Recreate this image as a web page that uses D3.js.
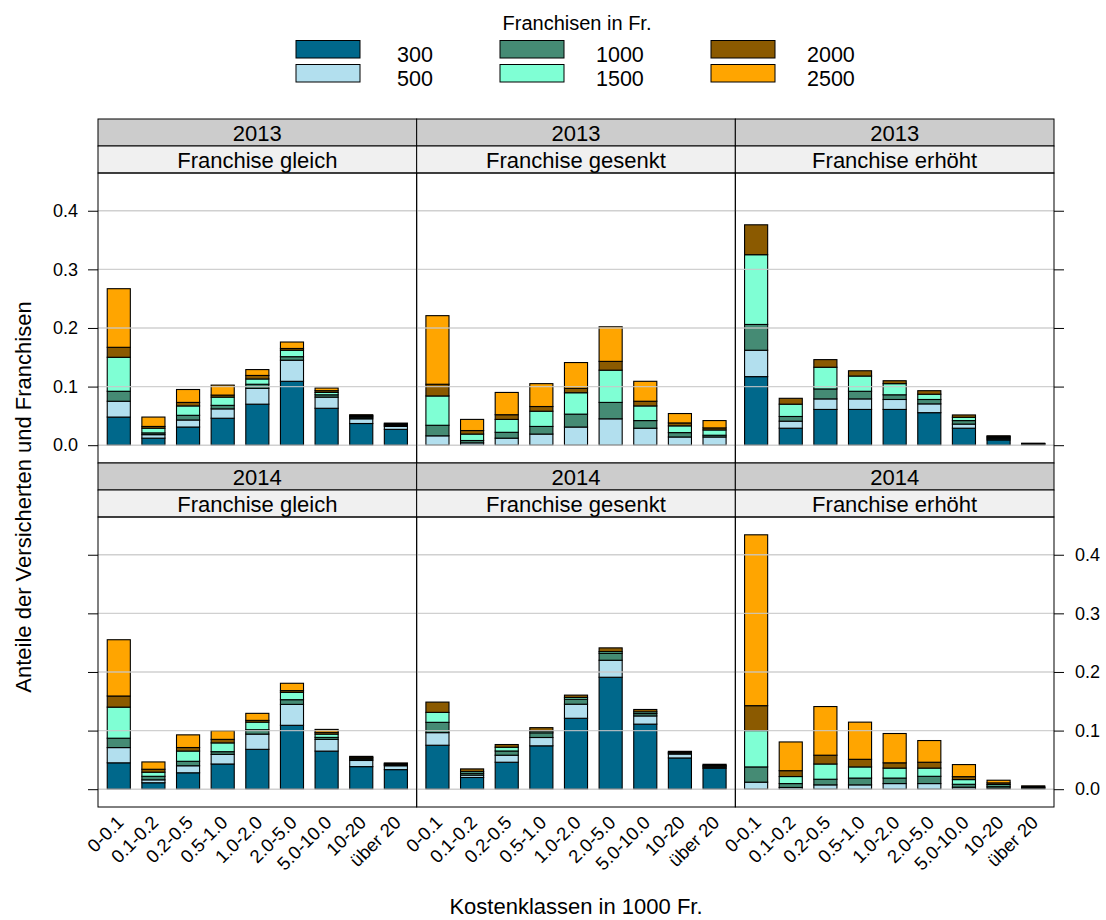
<!DOCTYPE html>
<html>
<head>
<meta charset="utf-8">
<script src="https://cdn.jsdelivr.net/npm/d3@7"></script>
<style>
  html, body { margin: 0; padding: 0; background: #fff; }
  svg { display: block; font-family: "Liberation Sans", Arial, sans-serif; }
</style>
</head>
<body>
<svg id="chart" width="1106" height="920"></svg>
<script>
// Cost classes (in 1000 Fr.) and deductible levels (Franchisen)
const kostenklassen = ["0-0.1", "0.1-0.2", "0.2-0.5", "0.5-1.0", "1.0-2.0", "2.0-5.0", "5.0-10.0", "10-20", "über 20"];
const franchisen = ["300", "500", "1000", "1500", "2000", "2500"];
const farben = ["#00688B", "#B2DFEE", "#458B74", "#7FFFD4", "#8B5A00", "#FFA500"];
const jahre = ["2013", "2014"];
const gruppen = ["Franchise gleich", "Franchise gesenkt", "Franchise erhöht"];
const yTicks = [0.0, 0.1, 0.2, 0.3, 0.4];

// Shares per cost class; each row: 300, 500, 1000, 1500, 2000, 2500
const gleich2013 = [
  [0.048, 0.027, 0.017, 0.058, 0.017, 0.100],
  [0.012, 0.006, 0.003, 0.008, 0.003, 0.016],
  [0.031, 0.012, 0.008, 0.016, 0.006, 0.022],
  [0.046, 0.016, 0.006, 0.014, 0.0035, 0.017],
  [0.070, 0.027, 0.007, 0.009, 0.006, 0.010],
  [0.109, 0.036, 0.006, 0.011, 0.003, 0.011],
  [0.063, 0.019, 0.004, 0.004, 0.003, 0.0045],
  [0.037, 0.008, 0.002, 0.002, 0.0015, 0.0015],
  [0.027, 0.005, 0.0015, 0.0015, 0.0015, 0.0012]
];
const gesenkt2013 = [
  [0, 0.016, 0.018, 0.050, 0.020, 0.117],
  [0, 0.004, 0.004, 0.011, 0.006, 0.019],
  [0, 0.012, 0.010, 0.022, 0.008, 0.038],
  [0, 0.019, 0.013, 0.026, 0.008, 0.039],
  [0, 0.031, 0.022, 0.0365, 0.0075, 0.044],
  [0, 0.045, 0.028, 0.055, 0.015, 0.059],
  [0, 0.029, 0.013, 0.025, 0.008, 0.034],
  [0, 0.014, 0.0075, 0.0115, 0.005, 0.016],
  [0, 0.014, 0.003, 0.009, 0.0035, 0.0125]
];
const erhoeht2013 = [
  [0.117, 0.045, 0.044, 0.119, 0.051, 0],
  [0.029, 0.012, 0.008, 0.021, 0.010, 0],
  [0.061, 0.018, 0.017, 0.037, 0.013, 0],
  [0.061, 0.018, 0.013, 0.026, 0.009, 0],
  [0.061, 0.017, 0.008, 0.019, 0.005, 0],
  [0.0555, 0.015, 0.0075, 0.009, 0.006, 0],
  [0.029, 0.007, 0.006, 0.0056, 0.004, 0],
  [0.009, 0.002, 0.002, 0.002, 0.001, 0],
  [0.001, 0.0006, 0.0006, 0.0006, 0.0006, 0]
];
const gleich2014 = [
  [0.045, 0.026, 0.016, 0.053, 0.019, 0.096],
  [0.011, 0.005, 0.006, 0.007, 0.005, 0.0125],
  [0.028, 0.012, 0.0076, 0.0175, 0.006, 0.0216],
  [0.043, 0.0165, 0.0045, 0.015, 0.006, 0.0147],
  [0.068, 0.026, 0.0074, 0.013, 0.003, 0.012],
  [0.109, 0.0357, 0.008, 0.0125, 0.003, 0.0125],
  [0.065, 0.020, 0.0034, 0.0056, 0.003, 0.005],
  [0.0385, 0.0105, 0.002, 0.002, 0.0015, 0.0015],
  [0.0334, 0.0066, 0.0012, 0.0012, 0.0012, 0.0012]
];
const gesenkt2014 = [
  [0.075, 0.0215, 0.0176, 0.017, 0.0175, 0],
  [0.020, 0.004, 0.003, 0.003, 0.0046, 0],
  [0.046, 0.012, 0.0072, 0.0064, 0.0046, 0],
  [0.074, 0.0142, 0.008, 0.003, 0.0058, 0],
  [0.121, 0.024, 0.0085, 0.003, 0.004, 0],
  [0.191, 0.029, 0.0117, 0.003, 0.0064, 0],
  [0.111, 0.014, 0.004, 0.003, 0.004, 0],
  [0.0533, 0.0067, 0.0015, 0.0015, 0.0016, 0],
  [0.0357, 0.002, 0.0015, 0.0015, 0.0018, 0]
];
const erhoeht2014 = [
  [0, 0.012, 0.026, 0.062, 0.0425, 0.2915],
  [0, 0.003, 0.0066, 0.012, 0.010, 0.049],
  [0, 0.0074, 0.0096, 0.026, 0.015, 0.083],
  [0, 0.0074, 0.0116, 0.019, 0.013, 0.0634],
  [0, 0.0096, 0.0094, 0.017, 0.009, 0.050],
  [0, 0.0096, 0.0124, 0.014, 0.010, 0.037],
  [0, 0.0034, 0.005, 0.008, 0.005, 0.0206],
  [0, 0.002, 0.003, 0.003, 0.0028, 0.0045],
  [0, 0.001, 0.001, 0.001, 0.001, 0.0017]
];

const panelData = [
  [gleich2013, gesenkt2013, erhoeht2013],
  [gleich2014, gesenkt2014, erhoeht2014]
];

// Layout of the 2 x 3 lattice
const gridLeft = 98, gridRight = 1054, gridTop = 119, gridBottom = 807;
const colW = (gridRight - gridLeft) / 3;
const rowH = (gridBottom - gridTop) / 2;
const stripH = 27;
const plotH = rowH - 2 * stripH;

const svg = d3.select("#chart");
const font = "'Liberation Sans', Arial, sans-serif";

// Stack layout turns each cost class row into cumulative segments
const stack = d3.stack()
  .keys(d3.range(franchisen.length))
  .value((row, k) => row[k]);

// Shared y domain, padded like a lattice panel
const allTops = panelData.flat().flatMap(p => p.map(r => d3.sum(r)));
const yMax = d3.max(allTops);
const pad = 0.07 * yMax;
const yDomain = [-pad, yMax + pad];

const x = d3.scalePoint()
  .domain(kostenklassen)
  .range([0, colW])
  .padding(0.6);
const barW = x.step() * 2 / 3;

const y = d3.scaleLinear().domain(yDomain).range([plotH, 0]);

panelData.forEach((rowPanels, ri) => {
  rowPanels.forEach((data, ci) => {
    const gx = gridLeft + ci * colW;
    const gy = gridTop + ri * rowH;
    const g = svg.append("g").attr("transform", `translate(${gx},${gy})`);

    // Strips: year, then group
    g.append("rect").attr("x", 0).attr("y", 0).attr("width", colW).attr("height", stripH)
      .attr("fill", "#CCCCCC").attr("stroke", "#000").attr("stroke-width", 1);
    g.append("text").attr("x", colW / 2).attr("y", stripH / 2 + 1)
      .attr("text-anchor", "middle").attr("dominant-baseline", "central")
      .attr("font-size", 22).attr("fill", "#000").text(jahre[ri]);
    g.append("rect").attr("x", 0).attr("y", stripH).attr("width", colW).attr("height", stripH)
      .attr("fill", "#F0F0F0").attr("stroke", "#000").attr("stroke-width", 1);
    g.append("text").attr("x", colW / 2).attr("y", stripH * 1.5 + 1)
      .attr("text-anchor", "middle").attr("dominant-baseline", "central")
      .attr("font-size", 22).attr("fill", "#000").text(gruppen[ci]);

    const p = g.append("g").attr("transform", `translate(0,${2 * stripH})`);

    // Stacked bars
    const series = stack(data);
    p.selectAll("g.serie").data(series).join("g")
      .attr("class", "serie")
      .attr("fill", d => farben[d.key])
      .selectAll("rect").data((d) => d.map((seg, i) => ({ seg, i })))
      .join("rect")
      .attr("x", d => x(kostenklassen[d.i]) - barW / 2)
      .attr("width", barW)
      .attr("y", d => y(d.seg[1]))
      .attr("height", d => Math.max(0, y(d.seg[0]) - y(d.seg[1])))
      .attr("stroke", "#000")
      .attr("stroke-width", 1.1);

    // Reference lines across the panel
    p.selectAll("line.grid").data(yTicks).join("line")
      .attr("class", "grid")
      .attr("x1", 0).attr("x2", colW)
      .attr("y1", d => y(d)).attr("y2", d => y(d))
      .attr("stroke", "#C8C8C8").attr("stroke-width", 1.4).attr("stroke-opacity", 0.85);

    // Panel frame
    p.append("rect").attr("x", 0).attr("y", 0).attr("width", colW).attr("height", plotH)
      .attr("fill", "none").attr("stroke", "#000").attr("stroke-width", 1);

    // Y axes alternate: labels left on top row, right on bottom row
    if (ci === 0) {
      const ax = d3.axisLeft(y).tickValues(yTicks).tickSize(10).tickPadding(10)
        .tickFormat(ri === 0 ? d3.format(".1f") : () => "");
      const a = p.append("g").call(ax);
      a.select(".domain").remove();
      a.selectAll("text").attr("font-size", 18).attr("font-family", font).attr("fill", "#000");
    }
    if (ci === 2) {
      const ax = d3.axisRight(y).tickValues(yTicks).tickSize(10).tickPadding(11)
        .tickFormat(ri === 1 ? d3.format(".1f") : () => "");
      const a = p.append("g").attr("transform", `translate(${colW},0)`).call(ax);
      a.select(".domain").remove();
      a.selectAll("text").attr("font-size", 18).attr("font-family", font).attr("fill", "#000");
    }

    // Rotated cost class labels below the bottom row
    if (ri === 1) {
      const ax = d3.axisBottom(x).tickSize(0).tickPadding(0);
      const a = p.append("g").attr("transform", `translate(0,${plotH})`).call(ax);
      a.select(".domain").remove();
      a.selectAll("text")
        .attr("y", 0).attr("dy", null)
        .attr("font-size", 18.5).attr("font-family", font).attr("fill", "#000")
        .attr("text-anchor", "end")
        .attr("dominant-baseline", "central")
        .attr("transform", "translate(1,12) rotate(-45)");
    }
  });
});

// Axis titles
svg.append("text")
  .attr("x", (gridLeft + gridRight) / 2).attr("y", 914)
  .attr("text-anchor", "middle").attr("font-size", 22).attr("fill", "#000")
  .text("Kostenklassen in 1000 Fr.");
svg.append("text")
  .attr("transform", "translate(31,497) rotate(-90)")
  .attr("text-anchor", "middle").attr("font-size", 22).attr("fill", "#000")
  .text("Anteile der Versicherten und Franchisen");

// Legend
const legend = svg.append("g");
legend.append("text").attr("x", 577).attr("y", 30)
  .attr("text-anchor", "middle").attr("font-size", 20).attr("fill", "#000")
  .text("Franchisen in Fr.");
const keyX = [296, 500, 711];
const labX = [397, 596, 807];
const keyY = [40.5, 64.5];
franchisen.forEach((f, i) => {
  const c = Math.floor(i / 2), r = i % 2;
  legend.append("rect").attr("x", keyX[c]).attr("y", keyY[r])
    .attr("width", 64).attr("height", 17.5)
    .attr("fill", farben[i]).attr("stroke", "#000").attr("stroke-width", 1);
  legend.append("text").attr("x", labX[c]).attr("y", keyY[r] + 21)
    .attr("font-size", 21.5).attr("fill", "#000").text(f);
});
</script>
</body>
</html>
